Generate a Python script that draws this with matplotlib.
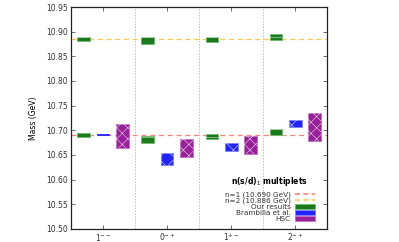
import matplotlib.pyplot as plt
from matplotlib.patches import Patch, Rectangle
from matplotlib.lines import Line2D

# quantum numbers (x categories)
states = ['1$^{--}$', '0$^{-+}$', '1$^{+-}$', '2$^{-+}$']

# our results: n=1 and n=2 (centre, half-height)
ours_n1 = [10.690, 10.682, 10.688, 10.697]
ours_n1_err = [0.004, 0.007, 0.0055, 0.006]
ours_n2 = [10.885, 10.882, 10.884, 10.889]
ours_n2_err = [0.004, 0.007, 0.0055, 0.006]

# Brambilla et al.
bram = [10.692, 10.6425, 10.666, 10.714]
bram_err = [0.0012, 0.012, 0.0075, 0.0075]

# HSC
hsc = [10.689, 10.664, 10.6705, 10.7075]
hsc_err = [0.024, 0.0177, 0.018, 0.0285]

n1_mass = 10.690
n2_mass = 10.886

c_ours, e_ours = '#1b7a1b', '#6fb86f'
c_bram, e_bram = '#2323ff', '#8080ff'
c_hsc, e_hsc = '#9a1f9a', '#c070c0'

plt.rcParams['hatch.linewidth'] = 0.35
hatch_ours, hatch_bram, hatch_hsc = '--', 'xx', 'xxx'

fig = plt.figure(figsize=(3.99, 2.42), dpi=100)
ax = fig.add_axes([0.178, 0.054, 0.642, 0.917])


def box(x, y, err, fc, ec, hatch, w=0.2):
    ax.add_patch(Rectangle((x - w / 2, y - err), w, 2 * err, facecolor=fc,
                           edgecolor=ec, linewidth=0.6, zorder=3))
    if hatch:
        ax.add_patch(Rectangle((x - w / 2, y - err), w, 2 * err, facecolor='none',
                               edgecolor='#f0f0f0', hatch=hatch, linewidth=0, zorder=4))


for i in range(len(states)):
    x = i + 1
    box(x - 0.3, ours_n1[i], ours_n1_err[i], c_ours, e_ours, hatch_ours)
    box(x - 0.3, ours_n2[i], ours_n2_err[i], c_ours, e_ours, hatch_ours)
    if bram_err[i] > 0.002:
        box(x, bram[i], bram_err[i], c_bram, e_bram, hatch_bram)
    else:
        box(x, bram[i], bram_err[i], c_bram, c_bram, None)
    box(x + 0.3, hsc[i], hsc_err[i], c_hsc, e_hsc, hatch_hsc)

ax.axhline(n1_mass, color='#ff8080', ls=(0, (4, 3)), lw=0.9, zorder=2)
ax.axhline(n2_mass, color='#ffc94a', ls=(0, (4, 3)), lw=0.9, zorder=2)
for xs in [1.5, 2.5, 3.5]:
    ax.axvline(xs, color='#bbbbbb', ls=(0, (1.5, 1.5)), lw=0.7, zorder=1)

ax.set_xlim(0.5, 4.5)
ax.set_ylim(10.50, 10.95)
ax.set_xticks(range(1, len(states) + 1))
ax.set_xticklabels(states)
ax.set_yticks([10.50 + 0.05 * k for k in range(10)])
ax.yaxis.set_major_formatter(plt.FormatStrFormatter('%.2f'))
ax.tick_params(direction='in', top=True, right=True, labelsize=5.5,
               length=3, width=0.6, color='#555555', labelcolor='#333333', pad=2)
for s in ax.spines.values():
    s.set_linewidth(0.9)
    s.set_color('#222222')
ax.set_ylabel('Mass (GeV)', fontsize=5.5, labelpad=6)

handles = [
    Line2D([], [], color='#ff8080', ls=(0, (3, 2)), lw=1.2),
    Line2D([], [], color='#ffc94a', ls=(0, (3, 2)), lw=1.2),
    Patch(facecolor=c_ours, edgecolor=e_ours, lw=0.6),
    Patch(facecolor=c_bram, edgecolor=e_bram, lw=0.6),
    Patch(facecolor=c_hsc, edgecolor=e_hsc, lw=0.6),
]
labels = ['n=1 (10.690 GeV)', 'n=2 (10.886 GeV)', 'Our results', 'Brambilla et al.', 'HSC']
leg = ax.legend(handles, labels, loc='lower right', bbox_to_anchor=(0.964, 0.018),
                borderaxespad=0, borderpad=0.4,
                frameon=False, markerfirst=False, fontsize=5.2, handlelength=2.8,
                handleheight=0.6, labelspacing=0.0, handletextpad=0.6,
                title='n(s/d)$_1$ multiplets',
                title_fontproperties={'weight': 'bold', 'size': 5.5})
leg._legend_box.align = 'center'
leg._legend_box.sep = 2.5
for t in leg.get_texts():
    t.set_color('#333333')

fig.savefig('out.png', dpi=100)
